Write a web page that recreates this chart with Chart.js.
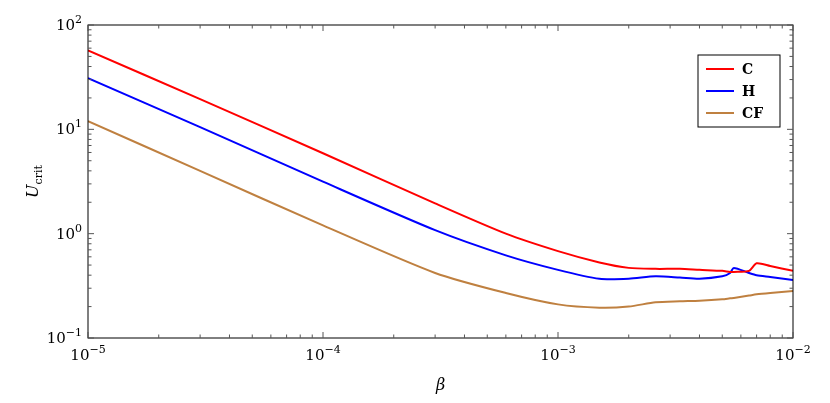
<!DOCTYPE html>
<html><head><meta charset="utf-8">
<script src="https://cdn.jsdelivr.net/npm/chart.js@4"></script>
<style>html,body{margin:0;background:#fff}#wrap{width:830px;height:403px}</style>
</head><body><div id="wrap"><canvas id="c"></canvas></div>
<script>
/* ── Data ── */
const beta   = [1e-5, 3e-5, 1e-4, 3e-4, 6e-4, 1e-3, 1.5e-3, 2e-3, 2.6e-3, 3.3e-3, 4e-3, 5e-3, 5.4e-3, 5.6e-3, 6.5e-3, 7e-3, 8e-3, 1e-2];
const uC     = [57, 19.5, 5.9, 1.95, 1.0, 0.68, 0.53, 0.47, 0.46, 0.46, 0.45, 0.44, 0.43, 0.43, 0.44, 0.52, 0.49, 0.44];
const uH     = [31, 10.5, 3.15, 1.08, 0.62, 0.45, 0.37, 0.37, 0.39, 0.38, 0.37, 0.39, 0.42, 0.47, 0.42, 0.40, 0.385, 0.36];
const uCF    = [12, 4.0, 1.2, 0.42, 0.27, 0.21, 0.195, 0.2, 0.22, 0.225, 0.228, 0.235, 0.24, 0.242, 0.255, 0.262, 0.27, 0.282];
const xExps  = [-5, -4, -3, -2];
const yExps  = [-1, 0, 1, 2];
const series = [
  { label: 'C',  vals: uC,  color: '#ff0000' },
  { label: 'H',  vals: uH,  color: '#0000ff' },
  { label: 'CF', vals: uCF, color: '#bf8040' },
];
const SERIF = "'DejaVu Serif', 'Liberation Serif', serif";

function pow10(ctx, x, y, e, align) {
  ctx.font = '15px ' + SERIF;
  const b = '10', s = String(e).replace('-', '\u2212');
  ctx.save(); ctx.font = '11px ' + SERIF; const ws = ctx.measureText(s).width; ctx.restore();
  const wb = ctx.measureText(b).width;
  let x0 = align === 'right' ? x - wb - ws : x - (wb + ws) / 2;
  ctx.textAlign = 'left'; ctx.textBaseline = 'alphabetic';
  ctx.fillText(b, x0, y);
  ctx.font = '11px ' + SERIF;
  ctx.fillText(s, x0 + wb, y - 7);
}

const frame = {
  id: 'frame',
  afterDatasetsDraw(chart) {
    const { ctx, chartArea: a, scales: { x, y } } = chart;
    ctx.save();
    ctx.strokeStyle = '#000'; ctx.lineWidth = 1;
    ctx.strokeRect(a.left, a.top, a.right - a.left, a.bottom - a.top);
    ctx.strokeStyle = '#555';
    const tick = (px, vertical, len) => {
      ctx.beginPath();
      if (vertical) { ctx.moveTo(px, a.bottom); ctx.lineTo(px, a.bottom - len); ctx.moveTo(px, a.top); ctx.lineTo(px, a.top + len); }
      else { ctx.moveTo(a.left, px); ctx.lineTo(a.left + len, px); ctx.moveTo(a.right, px); ctx.lineTo(a.right - len, px); }
      ctx.stroke();
    };
    for (let e = -5; e <= -2; e++) for (let m = 1; m <= 9; m++) {
      const v = m * Math.pow(10, e); if (v > 1e-2 + 1e-12) break;
      tick(x.getPixelForValue(v), true, m === 1 ? 6 : 3.5);
    }
    for (let e = -1; e <= 2; e++) for (let m = 1; m <= 9; m++) {
      const v = m * Math.pow(10, e); if (v > 100 + 1e-9) break;
      tick(y.getPixelForValue(v), false, m === 1 ? 6 : 3.5);
    }
    ctx.fillStyle = '#000';
    xExps.forEach(e => pow10(ctx, x.getPixelForValue(Math.pow(10, e)), a.bottom + 22, e, 'center'));
    yExps.forEach(e => pow10(ctx, a.left - 6, y.getPixelForValue(Math.pow(10, e)) + 5, e, 'right'));
    // axis titles
    ctx.font = 'italic 16px ' + SERIF; ctx.textAlign = 'center';
    ctx.fillText('\u03b2', (a.left + a.right) / 2, a.bottom + 52);
    ctx.save();
    ctx.translate(a.left - 55, (a.top + a.bottom) / 2);
    ctx.rotate(-Math.PI / 2);
    ctx.textAlign = 'left';
    ctx.font = 'italic 16px ' + SERIF; const wu = ctx.measureText('U').width;
    ctx.font = '11px ' + SERIF; const wc = ctx.measureText('crit').width;
    const x0 = -(wu + wc) / 2;
    ctx.font = 'italic 16px ' + SERIF; ctx.fillText('U', x0, 5);
    ctx.font = '11px ' + SERIF; ctx.fillText('crit', x0 + wu, 9);
    ctx.restore();
    // legend
    const lx = 698, ly = 55, lw = 82, lh = 72;
    ctx.fillStyle = '#fff'; ctx.fillRect(lx, ly, lw, lh);
    ctx.strokeStyle = '#000'; ctx.strokeRect(lx, ly, lw, lh);
    series.forEach((s, i) => {
      const yy = ly + 14 + i * 22;
      ctx.strokeStyle = s.color; ctx.lineWidth = 2;
      ctx.beginPath(); ctx.moveTo(lx + 8, yy); ctx.lineTo(lx + 36, yy); ctx.stroke();
      ctx.fillStyle = '#000'; ctx.font = 'bold 14px ' + SERIF; ctx.textAlign = 'left';
      ctx.fillText(s.label, lx + 44, yy + 5);
    });
    ctx.restore();
  }
};

new Chart(document.getElementById('c'), {
  type: 'line',
  data: {
    datasets: series.map(s => ({
      label: s.label,
      data: beta.map((b, i) => ({ x: b, y: s.vals[i] })),
      borderColor: s.color, borderWidth: 2, pointRadius: 0,
      tension: 0.25, fill: false,
    })),
  },
  options: {
    responsive: true, maintainAspectRatio: false, animation: false,
    layout: { padding: { left: 88, right: 37, top: 25, bottom: 65 } },
    plugins: { legend: { display: false }, tooltip: { enabled: false } },
    scales: {
      x: { type: 'logarithmic', min: 1e-5, max: 1e-2, display: false },
      y: { type: 'logarithmic', min: 0.1, max: 100, display: false },
    },
  },
  plugins: [frame],
});
</script></body></html>
